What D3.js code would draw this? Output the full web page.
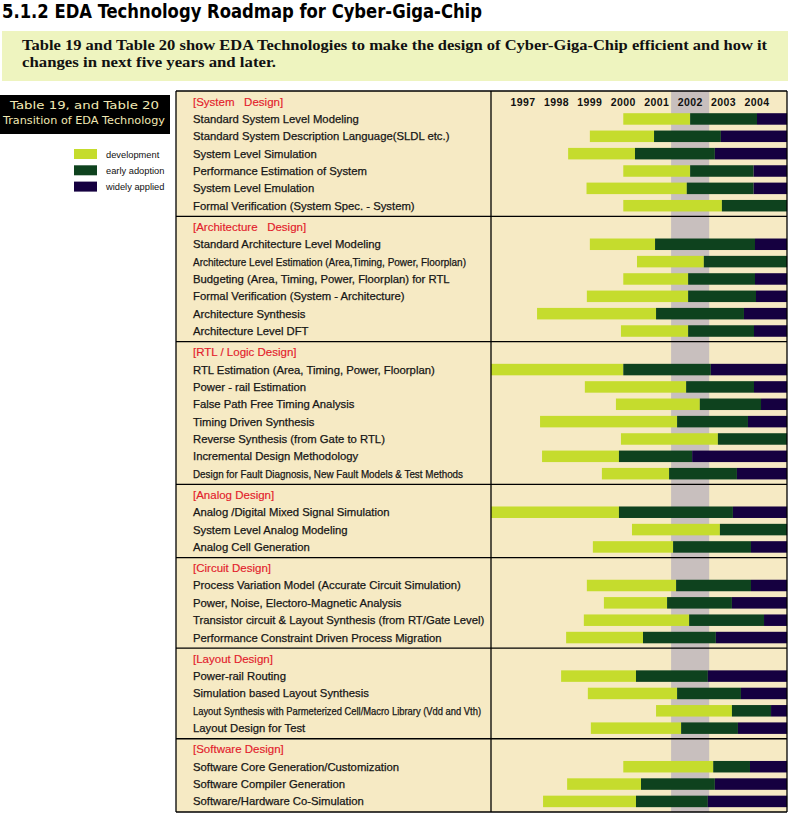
<!DOCTYPE html>
<html lang="en">
<head>
<meta charset="UTF-8">
<title>EDA Technology Roadmap for Cyber-Giga-Chip</title>
<script src="https://d3js.org/d3.v7.min.js"></script>
<style>
  body { margin: 0; padding: 0; background: #fff; }
  svg { display: block; }
  .label { font-family: "Liberation Sans", Arial, sans-serif; font-size: 11.3px; fill: #161616; stroke: #161616; stroke-width: 0.25px; }
  .section { font-family: "Liberation Sans", Arial, sans-serif; font-size: 11.5px; fill: #e3202b; white-space: pre; stroke: #e3202b; stroke-width: 0.15px; }
  .year { font-family: "Liberation Sans", Arial, sans-serif; font-size: 10.5px; font-weight: bold; fill: #111; letter-spacing: 0.4px; }
</style>
</head>
<body>
<div id="chart"></div>
<script>
// ---- data (years) ----
const yearTicks = [1997, 1998, 1999, 2000, 2001, 2002, 2003, 2004];
const seriesNames = ["development", "early adoption", "widely applied"];
const highlightYear = 2002;
const chartEnd = 2004.9;

const sectionTitles = [
  "[System   Design]",
  "[Architecture   Design]",
  "[RTL / Logic Design]",
  "[Analog Design]",
  "[Circuit Design]",
  "[Layout Design]",
  "[Software Design]"
];

const sectionItems = [
  ["Standard System Level Modeling",
   "Standard System Description Language(SLDL etc.)",
   "System Level Simulation",
   "Performance Estimation of System",
   "System Level Emulation",
   "Formal Verification (System Spec. - System)"],
  ["Standard Architecture Level Modeling",
   "Architecture Level Estimation (Area,Timing, Power, Floorplan)",
   "Budgeting (Area, Timing, Power, Floorplan) for RTL",
   "Formal Verification (System  - Architecture)",
   "Architecture Synthesis",
   "Architecture Level DFT"],
  ["RTL Estimation (Area, Timing, Power, Floorplan)",
   "Power - rail Estimation",
   "False Path Free Timing Analysis",
   "Timing Driven Synthesis",
   "Reverse Synthesis (from Gate to RTL)",
   "Incremental Design Methodology",
   "Design for Fault Diagnosis, New Fault Models & Test Methods"],
  ["Analog /Digital Mixed Signal Simulation",
   "System Level Analog Modeling",
   "Analog Cell Generation"],
  ["Process Variation Model (Accurate Circuit Simulation)",
   "Power, Noise, Electoro-Magnetic Analysis",
   "Transistor circuit & Layout Synthesis (from RT/Gate Level)",
   "Performance Constraint Driven Process Migration"],
  ["Power-rail Routing",
   "Simulation based Layout Synthesis",
   "Layout Synthesis with Parmeterized Cell/Macro Library  (Vdd and Vth)",
   "Layout Design for Test"],
  ["Software Core Generation/Customization",
   "Software Compiler Generation",
   "Software/Hardware Co-Simulation"]
];

// start of "development"
const devStart = [
  [2000.0, 1999.0, 1998.35, 2000.0, 1998.9, 2000.0],
  [1999.0, 2000.41, 2000.0, 1998.91, 1997.42, 1999.93],
  [1996.04, 1998.85, 1999.78, 1997.51, 1999.93, 1997.57, 1999.36],
  [1996.04, 2000.26, 1999.09],
  [1998.91, 1999.42, 1998.82, 1998.29],
  [1998.14, 1998.94, 2000.98, 1999.03],
  [2000.0, 1998.32, 1997.6]
];

// start of "early adoption"
const earlyStart = [
  [2002.0, 2000.92, 2000.35, 2002.0, 2001.9, 2002.95],
  [2000.95, 2002.41, 2001.94, 2001.94, 2000.98, 2001.94],
  [2000.0, 2001.88, 2002.29, 2001.61, 2002.83, 1999.87, 2001.37],
  [1999.87, 2002.89, 2001.49],
  [2001.58, 2001.31, 2001.97, 2000.59],
  [2000.38, 2001.61, 2003.25, 2001.73],
  [2002.69, 2000.53, 2000.38]
];

// start of "widely applied" (null = not reached in chart span)
const wideStart = [
  [2004.0, 2002.92, 2002.74, 2003.9, 2003.9, null],
  [2003.94, null, 2003.94, 2003.97, 2003.61, 2003.91],
  [2002.62, 2003.91, 2004.12, 2003.73, null, 2002.06, 2003.40],
  [2003.28, null, 2003.82],
  [2003.82, 2003.25, 2004.21, 2002.77],
  [2002.53, 2003.52, 2004.42, 2003.43],
  [2003.79, 2002.74, 2002.53]
];

// labels that the original sets in a narrower face
const narrowLabels = new Set([
  "Architecture Level Estimation (Area,Timing, Power, Floorplan)",
  "Design for Fault Diagnosis, New Fault Models & Test Methods",
  "Layout Synthesis with Parmeterized Cell/Macro Library  (Vdd and Vth)"
]);

// ---- layout ----
const W = 788, H = 813;
const colors = ["#c5dc2d", "#0e421e", "#150040"];
const cream = "#f6eac4";

const tableLeft = 176, tableRight = 787, splitX = 491;
const tableTop = 91;
const rowH = 17.35, pad = 1.93;
const barH = 11.5;

const svg = d3.select("#chart").append("svg")
  .attr("width", W)
  .attr("height", H);

const x = d3.scaleLinear()
  .domain([1997, 2004])
  .range([523, 757]);

// Title
svg.append("text")
  .attr("x", 2).attr("y", 18)
  .style("font-family", "'Liberation Sans Narrow', 'DejaVu Sans Condensed', sans-serif")
  .style("font-weight", "bold")
  .style("font-size", "20px")
  .attr("textLength", 480)
  .attr("lengthAdjust", "spacingAndGlyphs")
  .text("5.1.2 EDA Technology Roadmap for Cyber-Giga-Chip");

// intro box
svg.append("rect")
  .attr("x", 2).attr("y", 31)
  .attr("width", W - 2).attr("height", 50)
  .attr("fill", "#eef4bf");

const intro = svg.append("g")
  .style("font-family", "'Liberation Serif', 'DejaVu Serif', serif")
  .style("font-weight", "bold")
  .style("font-size", "14px")
  .attr("fill", "#111");
intro.append("text").attr("x", 22).attr("y", 50)
  .attr("textLength", 745).attr("lengthAdjust", "spacingAndGlyphs")
  .text("Table 19 and Table 20 show EDA Technologies to make the design of Cyber-Giga-Chip efficient and how it");
intro.append("text").attr("x", 22).attr("y", 67)
  .attr("textLength", 254).attr("lengthAdjust", "spacingAndGlyphs")
  .text("changes in next five years and later.");

// black caption box
svg.append("rect")
  .attr("x", 0).attr("y", 95)
  .attr("width", 170).attr("height", 39)
  .attr("fill", "#000");
const cap = svg.append("g")
  .style("font-family", "'DejaVu Sans', sans-serif")
  .style("font-size", "11px")
  .attr("fill", "#f2e9b4");
cap.append("text").attr("x", 10).attr("y", 109)
  .attr("textLength", 149).attr("lengthAdjust", "spacingAndGlyphs")
  .text("Table 19, and Table 20");
cap.append("text").attr("x", 3).attr("y", 124)
  .attr("textLength", 162).attr("lengthAdjust", "spacingAndGlyphs")
  .text("Transition of EDA Technology");

// legend
const legend = svg.append("g").attr("transform", "translate(74,149)");
seriesNames.forEach((name, i) => {
  const g = legend.append("g").attr("transform", `translate(0,${i * 16.3})`);
  g.append("rect").attr("width", 23).attr("height", 10).attr("fill", colors[i]);
  g.append("text")
    .attr("x", 32).attr("y", 8.5)
    .style("font-family", "'Liberation Sans', Arial, sans-serif")
    .style("font-size", "9.3px")
    .attr("fill", "#111")
    .text(name);
});

// compute row positions
const rows = [];
const dividers = [tableTop];
let cursor = tableTop;
sectionTitles.forEach((title, s) => {
  cursor += pad;
  rows.push({ type: "section", text: title, y: cursor + rowH / 2 });
  cursor += rowH;
  sectionItems[s].forEach((label, i) => {
    rows.push({
      type: "item", text: label, y: cursor + rowH / 2,
      segs: [devStart[s][i], earlyStart[s][i], wideStart[s][i]]
    });
    cursor += rowH;
  });
  cursor += pad;
  dividers.push(cursor);
});
const tableBottom = cursor;

// table background
svg.append("rect")
  .attr("x", tableLeft).attr("y", tableTop)
  .attr("width", tableRight - tableLeft).attr("height", tableBottom - tableTop)
  .attr("fill", cream);

// highlight year band
svg.append("rect")
  .attr("x", x(highlightYear - 0.57))
  .attr("y", tableTop)
  .attr("width", x(highlightYear + 0.57) - x(highlightYear - 0.57))
  .attr("height", tableBottom - tableTop)
  .attr("fill", "#c8bfbe");

// year labels
svg.append("g").selectAll("text")
  .data(yearTicks)
  .join("text")
  .attr("class", "year")
  .attr("x", d => x(d))
  .attr("y", rows[0].y + 4)
  .attr("text-anchor", "middle")
  .text(d => d);

// bars
const barRows = rows.filter(r => r.type === "item");
barRows.forEach(r => {
  const starts = r.segs;
  starts.forEach((st, k) => {
    if (st === null) return;
    let end = chartEnd;
    for (let j = k + 1; j < starts.length; j++) {
      if (starts[j] !== null) { end = starts[j]; break; }
    }
    svg.append("rect")
      .attr("x", x(st))
      .attr("y", r.y - barH / 2)
      .attr("width", x(end) - x(st))
      .attr("height", barH)
      .attr("fill", colors[k]);
  });
});

// text labels
svg.append("g").selectAll("text")
  .data(rows)
  .join("text")
  .attr("class", d => d.type === "section" ? "section" : "label")
  .attr("x", 193)
  .attr("y", d => d.y + 4)
  .style("font-size", d => narrowLabels.has(d.text) ? "10.3px" : null)
  .attr("textLength", d => narrowLabels.has(d.text) ? (d.text.startsWith("Layout") ? 288 : d.text.startsWith("Design") ? 270 : 273) : null)
  .attr("lengthAdjust", "spacingAndGlyphs")
  .text(d => d.text);

// grid lines
const lines = svg.append("g").attr("stroke", "#000").attr("stroke-width", 1.3);
dividers.forEach(yv => {
  lines.append("line")
    .attr("x1", tableLeft).attr("x2", tableRight)
    .attr("y1", yv).attr("y2", yv);
});
[tableLeft, splitX, tableRight].forEach(xv => {
  lines.append("line")
    .attr("x1", xv).attr("x2", xv)
    .attr("y1", tableTop).attr("y2", tableBottom);
});
</script>
</body>
</html>
